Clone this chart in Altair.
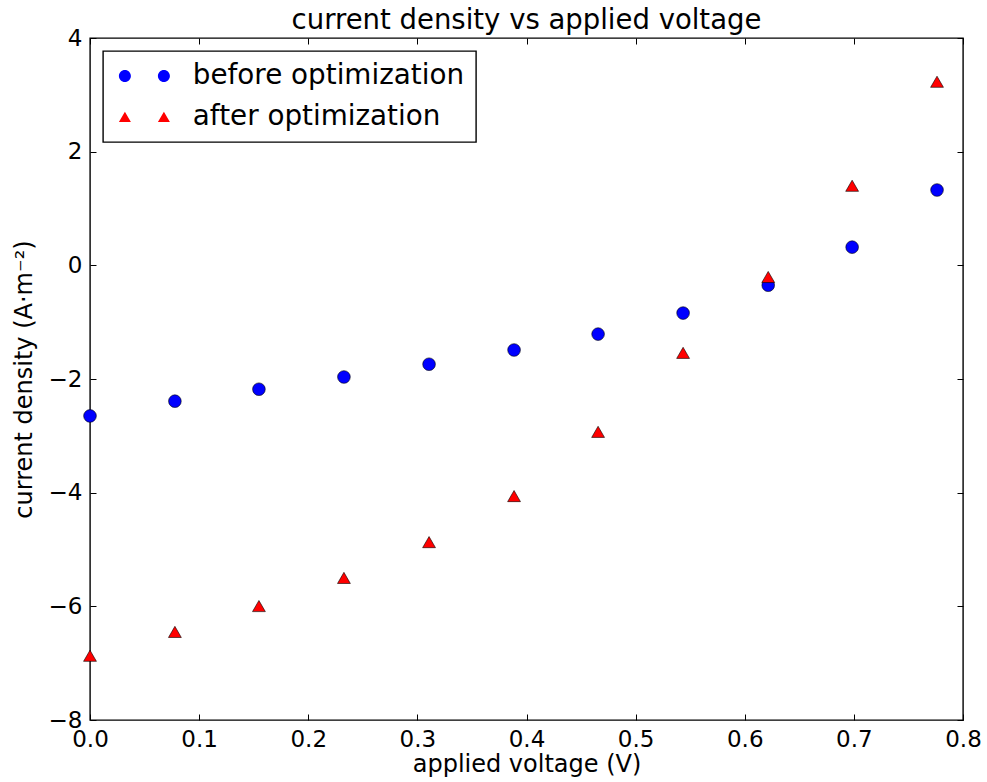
import altair as alt
import pandas as pd

# data
voltage = [0.0, 0.0778, 0.1548, 0.2327, 0.3107, 0.3886, 0.4656, 0.5435, 0.6215, 0.6984, 0.7762]
before = [-2.65, -2.39, -2.18, -1.965, -1.74, -1.49, -1.21, -0.84, -0.35, 0.32, 1.325]
after = [-6.87, -6.45, -5.995, -5.50, -4.87, -4.06, -2.93, -1.54, -0.205, 1.40, 3.23]
series_names = ["before optimization", "after optimization"]
series_colors = ["#0000ff", "#ff0000"]
x_ticks = [0.0, 0.1, 0.2, 0.3, 0.4, 0.5, 0.6, 0.7, 0.8]
y_ticks = [-8, -6, -4, -2, 0, 2, 4]

# legend symbols drawn twice (matplotlib numpoints=2 style), in unit symbol space
legend_shapes = [
    "M-1.5,0A1,1 0 1,0 0.5,0A1,1 0 1,0 -1.5,0ZM5,0A1,1 0 1,0 7,0A1,1 0 1,0 5,0Z",
    "M-0.5,-0.87L0.5,0.87L-1.5,0.87ZM6,-0.87L7,0.87L5,0.87Z",
]

df = pd.DataFrame({
    "voltage": voltage * 2,
    "density": before + after,
    "series": [series_names[0]] * len(voltage) + [series_names[1]] * len(voltage),
})

FONT = "DejaVu Sans"
xscale = alt.Scale(domain=[0, 0.8], nice=False, zero=False)
yscale = alt.Scale(domain=[-8, 4], nice=False, zero=False)
inward = {"expr": "-6"}

bottom_axis = alt.Axis(values=x_ticks, format=".1f", title="applied voltage (V)",
                       grid=False, domain=False, tickSize=inward, tickColor="black",
                       labelPadding=14, labelFontSize=23, labelColor="black", labelFont=FONT,
                       titleFont=FONT, titleFontSize=24, titleFontWeight="normal",
                       titleColor="black", titlePadding=1, labelFlush=False)
left_axis = alt.Axis(values=y_ticks, format="d", title="current density (A·m⁻²)",
                     grid=False, domain=False, tickSize=inward, tickColor="black",
                     labelPadding=14, labelFontSize=23, labelColor="black", labelFont=FONT,
                     titleFont=FONT, titleFontSize=24, titleFontWeight="normal",
                     titleColor="black", titlePadding=12, labelFlush=False)
top_axis = alt.Axis(orient="top", values=x_ticks, labels=False, title=None, grid=False,
                    domain=False, tickSize=inward, tickColor="black")
right_axis = alt.Axis(orient="right", values=y_ticks, labels=False, title=None, grid=False,
                      domain=False, tickSize=inward, tickColor="black")

base = alt.Chart(df)

pts_before = base.transform_filter(alt.datum.series == series_names[0]).mark_point(
    shape="circle", filled=True, fill=series_colors[0], stroke="black",
    strokeWidth=0.6, size=160, opacity=1
).encode(
    x=alt.X("voltage:Q", scale=xscale, axis=bottom_axis),
    y=alt.Y("density:Q", scale=yscale, axis=left_axis),
)

pts_after = base.transform_filter(alt.datum.series == series_names[1]).mark_point(
    shape="triangle-up", filled=True, fill=series_colors[1], stroke="black",
    strokeWidth=0.6, size=165, opacity=1
).encode(
    x=alt.X("voltage:Q", scale=xscale, axis=None),
    y=alt.Y("density:Q", scale=yscale, axis=None),
)

legend_layer = base.mark_point(filled=True, opacity=0).encode(
    x=alt.X("voltage:Q", scale=xscale, axis=None),
    y=alt.Y("density:Q", scale=yscale, axis=None),
    color=alt.Color("series:N", scale=alt.Scale(domain=series_names, range=series_colors),
                    legend=alt.Legend(title=None)),
    shape=alt.Shape("series:N", scale=alt.Scale(domain=series_names, range=legend_shapes),
                    legend=alt.Legend(title=None)),
)

tick_layer = base.mark_point(opacity=0).encode(
    x=alt.X("voltage:Q", scale=xscale, axis=top_axis),
    y=alt.Y("density:Q", scale=yscale, axis=right_axis),
)

chart = alt.layer(pts_before, pts_after, legend_layer, tick_layer).resolve_axis(
    x="independent", y="independent"
).properties(
    width=873, height=682,
    autosize=alt.AutoSizeParams(type="none"),
    padding={"left": 90, "top": 38, "right": 24, "bottom": 62},
    title=alt.TitleParams("current density vs applied voltage", font=FONT, fontSize=27.5,
                          fontWeight="normal", color="black", anchor="middle", offset=3,
                          dy=10),
).configure_view(
    stroke="black", strokeWidth=1.4
).configure_legend(
    orient="top-left", offset=13, padding=11, strokeColor="black", strokeWidth=1.4,
    fillColor="white", cornerRadius=0, symbolSize=144, symbolOpacity=1,
    symbolStrokeColor="black", symbolStrokeWidth=0.6, labelFont=FONT, labelFontSize=27.8,
    labelColor="black", labelOffset=51, rowPadding=12, labelLimit=0
)

chart.save("out.html", embed_options={"renderer": "svg", "actions": False})
